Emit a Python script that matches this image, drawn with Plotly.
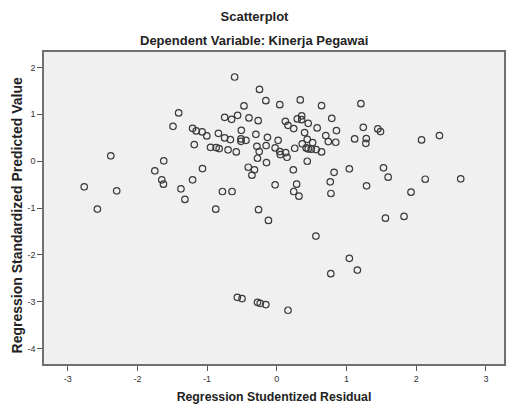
import plotly.graph_objects as go

residual = [-1.408, -1.489, -1.208, -1.156, -1.070, -1.184, -2.382, -1.622, -1.750, -1.066,
            -1.650, -1.626, -1.208, -2.763, -2.297, -1.375, -1.318, -2.574, -0.605, -0.248,
            -0.157, -0.471, 0.043, 0.337, 0.642, -0.748, -0.648, -0.562, -0.399, -0.267,
            0.123, 0.161, 0.243, 0.294, 0.357, 0.357, 0.451, 0.579, 0.789, -1.004,
            -0.837, -0.509, -0.300, -0.748, -0.666, -0.514, -0.514, -0.442, -0.134, 0.019,
            0.399, 0.437, 0.514, 0.703, 0.856, 0.739, 0.846, -0.951, -0.870, -0.827,
            -0.699, -0.581, -0.285, -0.153, -0.252, -0.277, -0.024, 0.043, 0.051, 0.128,
            0.147, 0.257, 0.365, 0.422, 0.451, 0.494, 0.565, 0.642, 0.437, -0.148,
            0.237, -0.409, -0.320, -0.357, 0.822, -0.024, 0.285, 0.767, -0.780, -0.642,
            0.243, 0.318, 0.777, -0.876, -0.262, -0.120, 0.561, 0.775, -0.566, -0.499,
            -0.277, -0.238, -0.157, 0.161, 1.207, 1.241, 1.449, 1.488, 1.117, 1.284,
            1.278, 2.077, 2.334, 1.041, 1.531, 1.598, 1.288, 2.130, 2.639, 1.926,
            1.559, 1.826, 1.041, 1.156]
predicted = [1.029, 0.744, 0.701, 0.646, 0.624, 0.354, 0.113, 0.006, -0.207, -0.158,
             -0.398, -0.492, -0.398, -0.548, -0.633, -0.590, -0.818, -1.023, 1.796, 1.532,
             1.291, 1.178, 1.206, 1.306, 1.185, 0.935, 0.893, 0.978, 0.923, 0.865,
             0.850, 0.765, 0.695, 0.901, 0.965, 0.886, 0.808, 0.710, 0.914, 0.539,
             0.595, 0.658, 0.573, 0.496, 0.460, 0.475, 0.424, 0.445, 0.509, 0.445,
             0.609, 0.467, 0.396, 0.545, 0.652, 0.418, 0.403, 0.296, 0.290, 0.268,
             0.241, 0.198, 0.317, 0.332, 0.205, 0.062, 0.283, 0.205, 0.141, 0.183,
             0.083, 0.275, 0.369, 0.283, 0.262, 0.254, 0.247, 0.198, -0.002, -0.030,
             -0.185, -0.130, -0.185, -0.300, -0.239, -0.505, -0.492, -0.441, -0.648, -0.648,
             -0.648, -0.748, -0.690, -1.025, -1.036, -1.266, -1.600, -2.401, -2.906, -2.934,
             -3.013, -3.034, -3.062, -3.183, 1.227, 0.722, 0.688, 0.631, 0.475, 0.482,
             0.381, 0.454, 0.545, -0.164, -0.143, -0.343, -0.526, -0.386, -0.377, -0.663,
             -1.217, -1.180, -2.075, -2.325]

x_ticks = [-3, -2, -1, 0, 1, 2, 3]
y_ticks = [-4, -3, -2, -1, 0, 1, 2]

fig = go.Figure()
fig.add_trace(go.Scatter(
    x=residual, y=predicted, mode="markers",
    marker=dict(symbol="circle-open", size=6.5, color="#3a3a3a", line=dict(width=1.2)),
    showlegend=False, hoverinfo="skip"))

font_main = "Liberation Sans, Arial, sans-serif"
fig.update_layout(
    width=509, height=405,
    margin=dict(l=44, r=3, t=52, b=40),
    paper_bgcolor="white", plot_bgcolor="#f0f0f0",
    font=dict(family=font_main, color="#222222"),
    title=dict(text="<b>Scatterplot</b>", x=0.5, xanchor="center", y=1 - 16 / 405, yanchor="middle",
               font=dict(size=13, family=font_main, color="#222222")),
    annotations=[
        dict(text="<b>Dependent Variable: Kinerja Pegawai</b>", xref="paper", yref="paper",
             x=(254.5 - 44) / (509 - 47), y=1, yshift=12, xanchor="center", yanchor="middle",
             showarrow=False, font=dict(size=13, family=font_main, color="#222222")),
        dict(text="<b>Regression Standardized Predicted Value</b>", xref="paper", yref="paper",
             x=0, xshift=-27, y=(365 - 216) / 313, textangle=-90, xanchor="center", yanchor="middle",
             showarrow=False, font=dict(size=14, family=font_main, color="#222222")),
    ],
)
fig.update_xaxes(range=[-3.34, 3.26], tickvals=x_ticks, ticktext=[str(v) for v in x_ticks],
                 showgrid=False, zeroline=False, showline=True, mirror=True,
                 linecolor="#707070", linewidth=1.5, ticks="outside", ticklen=5, tickcolor="#555555",
                 tickfont=dict(size=9, color="#333333"),
                 title=dict(text="<b>Regression Studentized Residual</b>", standoff=10,
                            font=dict(size=12.3, color="#222222")))
fig.update_yaxes(range=[-4.33, 2.33], tickvals=y_ticks, ticktext=[str(v) for v in y_ticks],
                 showgrid=False, zeroline=False, showline=True, mirror=True,
                 linecolor="#707070", linewidth=1.5, ticks="outside", ticklen=5, tickcolor="#555555",
                 tickfont=dict(size=9, color="#333333"))
fig.write_html("out.html", config={"displayModeBar": False},
               post_script="document.body.style.margin='0';")
